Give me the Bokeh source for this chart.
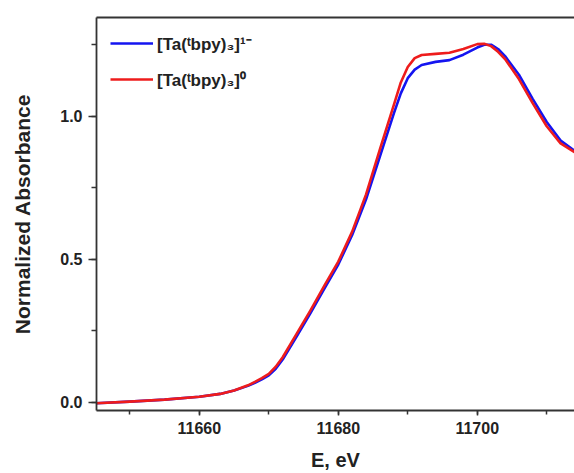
from bokeh.plotting import figure
from bokeh.models import LinearAxis, SingleIntervalTicker, FixedTicker, Range1d, Legend, LegendItem, PrintfTickFormatter
from bokeh.embed import file_html
from bokeh.resources import INLINE

energy_red = [11645, 11650, 11655, 11660, 11663, 11665, 11667, 11668, 11669, 11670, 11671, 11672,
              11674, 11676, 11678, 11680, 11682, 11684, 11686, 11688, 11689, 11690, 11691, 11692,
              11694, 11696, 11698, 11700, 11701, 11702, 11703, 11704, 11706, 11708, 11710, 11712, 11714, 11716]
abs_red = [-0.003, 0.003, 0.010, 0.020, 0.030, 0.042, 0.060, 0.072, 0.085, 0.100, 0.125, 0.158,
           0.240, 0.322, 0.408, 0.492, 0.597, 0.727, 0.885, 1.040, 1.118, 1.172, 1.203, 1.214,
           1.218, 1.222, 1.235, 1.252, 1.253, 1.245, 1.225, 1.200, 1.130, 1.045, 0.965, 0.905, 0.875, 0.860]

energy_blue = [11645, 11650, 11655, 11660, 11663, 11665, 11667, 11668, 11669, 11670, 11671, 11672,
               11674, 11676, 11678, 11680, 11682, 11684, 11686, 11688, 11689, 11690, 11691, 11692,
               11694, 11696, 11698, 11700, 11701, 11702, 11703, 11704, 11706, 11708, 11710, 11712, 11714, 11716]
abs_blue = [-0.003, 0.003, 0.010, 0.020, 0.030, 0.042, 0.058, 0.069, 0.081, 0.095, 0.118, 0.150,
            0.230, 0.312, 0.398, 0.482, 0.585, 0.710, 0.860, 1.010, 1.080, 1.133, 1.163, 1.179,
            1.190, 1.196, 1.215, 1.240, 1.250, 1.250, 1.235, 1.210, 1.145, 1.060, 0.980, 0.915, 0.880, 0.865]

label_blue = "[Ta(\u1d57bpy)\u2083]\u00b9\u207b"
label_red = "[Ta(\u1d57bpy)\u2083]\u2070"

FONT = "Liberation Sans"
AXIS_COLOR = "#333333"

p = figure(width=574, height=473, output_backend="svg", toolbar_location=None,
           x_range=Range1d(11645.2, 11714.0), y_range=Range1d(-0.028, 1.345),
           x_axis_label="E, eV", y_axis_label="Normalized Absorbance",
           min_border_left=96, min_border_top=17, min_border_bottom=62, min_border_right=0)
p.outline_line_color = None
p.grid.visible = False
p.background_fill_color = "white"
p.border_fill_color = "white"

r_blue = p.line(energy_blue, abs_blue, line_color="#1414f0", line_width=2.6, line_join="round")
r_red = p.line(energy_red, abs_red, line_color="#ee1c1c", line_width=2.6, line_join="round")

xa = p.xaxis[0]
xa.ticker = SingleIntervalTicker(interval=20, num_minor_ticks=2)
ya = p.yaxis[0]
ya.ticker = SingleIntervalTicker(interval=0.5, num_minor_ticks=2)
ya.formatter = PrintfTickFormatter(format="%.1f")

for ax in (xa, ya):
    ax.axis_line_color = AXIS_COLOR
    ax.axis_line_width = 1.8
    ax.major_tick_line_color = AXIS_COLOR
    ax.minor_tick_line_color = AXIS_COLOR
    ax.major_tick_line_width = 1.5
    ax.minor_tick_line_width = 1.5
    ax.major_tick_in = 0
    ax.minor_tick_in = 0
    ax.major_label_text_font = FONT
    ax.major_label_text_font_style = "bold"
    ax.major_label_text_font_size = "16px"
    ax.major_label_text_color = "#222222"
    ax.axis_label_text_font = FONT
    ax.axis_label_text_font_style = "bold"
    ax.axis_label_text_font_size = "20px"
    ax.axis_label_text_color = "#222222"

ya.axis_label_text_font_size = "21px"
xa.major_tick_out = 5
xa.minor_tick_out = 4
xa.major_label_standoff = 6
xa.axis_label_standoff = 12
ya.major_tick_out = 8
ya.minor_tick_out = 5
ya.major_label_standoff = 6
ya.axis_label_standoff = 23

top = LinearAxis(ticker=FixedTicker(ticks=[0]), axis_line_color=AXIS_COLOR, axis_line_width=1.8,
                 major_tick_line_color=None, minor_tick_line_color=None,
                 major_label_text_color=None, major_label_text_font_size="1px",
                 major_label_standoff=0, major_tick_out=0, minor_tick_out=0)
p.add_layout(top, "above")

legend = Legend(items=[LegendItem(label=label_blue, renderers=[r_blue]),
                       LegendItem(label=label_red, renderers=[r_red])],
                location="top_left", border_line_color=None, background_fill_alpha=0,
                margin=14, padding=0, glyph_width=43, glyph_height=24, label_height=24,
                spacing=12, label_standoff=4,
                label_text_font=FONT, label_text_font_style="bold", label_text_font_size="17px",
                label_text_color="#222222")
p.add_layout(legend)

open("out.html", "w").write(file_html(p, INLINE))
